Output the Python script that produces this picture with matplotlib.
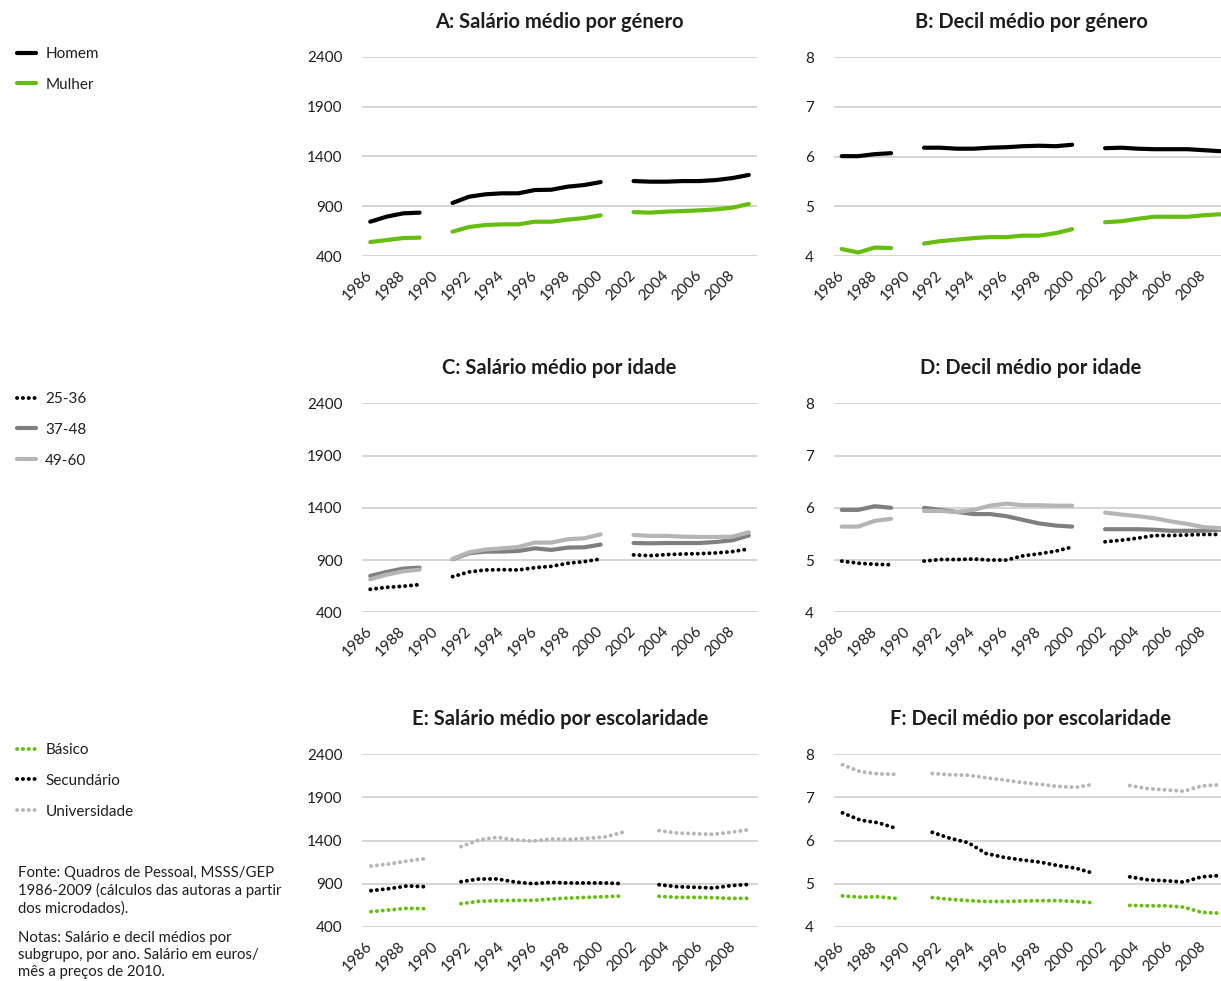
import numpy as np
import matplotlib.pyplot as plt

plt.rcParams['font.family'] = ['Lato', 'DejaVu Sans']

nan = np.nan

# eixo anual dos painéis A-D (1986-2009, sem 1990 e 2001)
years = list(range(1986, 2010))
tick_years = list(range(1986, 2009, 2))

# A: salário médio por género
sal_homem = [744, 795, 828, 835, nan, 932, 995, 1019, 1029, 1029, 1062, 1065, 1096, 1112, 1142,
             nan, 1152, 1146, 1146, 1152, 1152, 1162, 1182, 1213]
sal_mulher = [540, 560, 580, 584, nan, 644, 691, 711, 718, 718, 744, 744, 765, 781, 808,
              nan, 841, 835, 845, 851, 858, 868, 885, 922]

# B: decil médio por género
dec_homem = [6.01, 6.01, 6.05, 6.07, nan, 6.18, 6.18, 6.16, 6.16, 6.18, 6.19, 6.21, 6.22, 6.21, 6.24,
             nan, 6.17, 6.18, 6.16, 6.15, 6.15, 6.15, 6.13, 6.11]
dec_mulher = [4.14, 4.07, 4.17, 4.16, nan, 4.25, 4.30, 4.33, 4.36, 4.38, 4.38, 4.41, 4.41, 4.46, 4.54,
              nan, 4.68, 4.70, 4.75, 4.79, 4.79, 4.79, 4.82, 4.84]

# C: salário médio por idade
sal_25_36 = [620, 639, 649, 665, nan, 741, 786, 805, 808, 805, 827, 840, 869, 885, 910,
             nan, 949, 942, 952, 958, 961, 968, 981, 1006]
sal_37_48 = [748, 786, 818, 827, nan, 907, 965, 981, 981, 987, 1012, 997, 1019, 1022, 1048,
             nan, 1063, 1060, 1063, 1063, 1063, 1073, 1089, 1134]
sal_49_60 = [716, 760, 792, 808, nan, 910, 974, 1000, 1012, 1025, 1067, 1067, 1099, 1108, 1146,
             nan, 1140, 1131, 1131, 1124, 1121, 1121, 1124, 1166]

# D: decil médio por idade
dec_25_36 = [4.98, 4.94, 4.92, 4.91, nan, 4.98, 5.01, 5.01, 5.02, 5.00, 5.00, 5.08, 5.12, 5.17, 5.25,
             nan, 5.35, 5.38, 5.42, 5.47, 5.47, 5.48, 5.49, 5.49]
dec_37_48 = [5.96, 5.96, 6.03, 6.00, nan, 6.00, 5.96, 5.92, 5.88, 5.88, 5.84, 5.77, 5.70, 5.66, 5.64,
             nan, 5.59, 5.59, 5.59, 5.58, 5.56, 5.56, 5.56, 5.58]
dec_49_60 = [5.64, 5.64, 5.75, 5.79, nan, 5.94, 5.94, 5.92, 5.96, 6.04, 6.08, 6.05, 6.05, 6.04, 6.04,
             nan, 5.91, 5.87, 5.84, 5.80, 5.74, 5.69, 5.63, 5.61]

# E/F: escolaridade (22 pontos por série)
n_esc = 22
sal_basico = [577, 597, 616, 612, nan, 670, 697, 704, 708, 708, 724, 735, 743, 751, 758,
              nan, 755, 743, 743, 739, 731, 731]
sal_secund = [820, 843, 874, 866, nan, 924, 955, 955, 920, 901, 916, 909, 909, 909, 901,
              nan, 889, 866, 859, 851, 878, 893]
sal_univ = [1105, 1128, 1163, 1190, nan, 1329, 1406, 1437, 1406, 1394, 1417, 1413, 1425, 1441, 1495,
            nan, 1514, 1487, 1479, 1471, 1495, 1525]

dec_basico = [4.72, 4.69, 4.70, 4.66, nan, 4.68, 4.64, 4.61, 4.59, 4.59, 4.60, 4.61, 4.61, 4.59, 4.56,
              nan, 4.50, 4.49, 4.49, 4.46, 4.34, 4.32]
dec_secund = [6.64, 6.47, 6.41, 6.28, nan, 6.19, 6.05, 5.95, 5.70, 5.61, 5.55, 5.50, 5.42, 5.36, 5.24,
              nan, 5.16, 5.09, 5.07, 5.04, 5.16, 5.19]
dec_univ = [7.75, 7.59, 7.54, 7.53, nan, 7.55, 7.52, 7.51, 7.45, 7.40, 7.34, 7.30, 7.25, 7.23, 7.30,
            nan, 7.27, 7.20, 7.17, 7.14, 7.26, 7.29]

green = '#66bf0f'
dark = '#7f7f7f'
light = '#b5b5b5'
txt = '#1e1e1e'

W, H = 1221, 981
fig = plt.figure(figsize=(W / 100, H / 100), dpi=100)


def box(x0, ytop, x1, ybot):
    return [x0 / W, 1 - ybot / H, (x1 - x0) / W, (ybot - ytop) / H]


def setup(ax, title, yticks, n):
    ax.set_xlim(-0.5, n - 0.5)
    ax.set_ylim(yticks[0], yticks[-1])
    ax.set_yticks(yticks)
    ax.set_yticklabels([str(t) for t in yticks])
    for s in ax.spines.values():
        s.set_visible(False)
    ax.grid(axis='y', color='#c9c9c9', linewidth=1.1)
    ax.set_axisbelow(True)
    ax.tick_params(length=0, labelsize=11, colors=txt)
    ax.tick_params(axis='y', pad=14)
    ax.tick_params(axis='x', pad=12)
    # anos de 2 em 2, na mesma escala dos painéis anuais
    pos = [(y - 1985.5) * n / 24 - 0.5 for y in tick_years]
    ax.set_xticks(pos)
    ax.set_xticklabels([str(y) for y in tick_years], rotation=45, ha='right',
                       va='center', rotation_mode='anchor')
    ax.set_title(title, fontsize=14.5, fontweight='bold', color=txt, pad=21)


sal_ticks = [400, 900, 1400, 1900, 2400]
dec_ticks = [4, 5, 6, 7, 8]

x_ano = np.arange(len(years))
x_esc = np.arange(n_esc)

solid = dict(linewidth=3.0, solid_capstyle='round', solid_joinstyle='round')
dots = dict(linewidth=2.8, linestyle=(0, (0.05, 1.45)), dash_capstyle='round')

axA = fig.add_axes(box(362, 56.7, 757, 256))
axB = fig.add_axes(box(833.5, 57.3, 1228.5, 256))
axC = fig.add_axes(box(362, 403.3, 757, 612.3))
axD = fig.add_axes(box(833.5, 403.3, 1228.5, 612.3))
axE = fig.add_axes(box(362, 754, 758, 927))
axF = fig.add_axes(box(833.5, 754, 1228.5, 927))

setup(axA, 'A: Salário médio por género', sal_ticks, 24)
setup(axB, 'B: Decil médio por género', dec_ticks, 24)
setup(axC, 'C: Salário médio por idade', sal_ticks, 24)
setup(axD, 'D: Decil médio por idade', dec_ticks, 24)
setup(axE, 'E: Salário médio por escolaridade', sal_ticks, n_esc)
setup(axF, 'F: Decil médio por escolaridade', dec_ticks, n_esc)

axA.plot(x_ano, sal_homem, color='black', label='Homem', **solid)
axA.plot(x_ano, sal_mulher, color=green, label='Mulher', **solid)
axB.plot(x_ano, dec_homem, color='black', **solid)
axB.plot(x_ano, dec_mulher, color=green, **solid)

axC.plot(x_ano, sal_25_36, color='black', label='25-36', **dots)
axC.plot(x_ano, sal_37_48, color=dark, label='37-48', **solid)
axC.plot(x_ano, sal_49_60, color=light, label='49-60', **solid)
axD.plot(x_ano, dec_25_36, color='black', **dots)
axD.plot(x_ano, dec_37_48, color=dark, **solid)
axD.plot(x_ano, dec_49_60, color=light, **solid)

axE.plot(x_esc, sal_basico, color=green, label='Básico', **dots)
axE.plot(x_esc, sal_secund, color='black', label='Secundário', **dots)
axE.plot(x_esc, sal_univ, color=light, label='Universidade', **dots)
axF.plot(x_esc, dec_basico, color=green, **dots)
axF.plot(x_esc, dec_secund, color='black', **dots)
axF.plot(x_esc, dec_univ, color=light, **dots)

for ax, ytop in [(axA, 47), (axC, 392), (axE, 743)]:
    h, l = ax.get_legend_handles_labels()
    fig.legend(h, l, loc='upper left', bbox_to_anchor=(17 / W, 1 - ytop / H),
               frameon=False, fontsize=11, handlelength=1.25, handletextpad=0.6,
               labelspacing=1.1, borderpad=0, borderaxespad=0, labelcolor=txt)

fig.text(18 / W, 1 - 866 / H,
         'Fonte: Quadros de Pessoal, MSSS/GEP\n1986-2009 (cálculos das autoras a partir\ndos microdados).',
         fontsize=10.7, color=txt, va='top', linespacing=1.28)
fig.text(18 / W, 1 - 931 / H,
         'Notas: Salário e decil médios por\nsubgrupo, por ano. Salário em euros/\nmês a preços de 2010.',
         fontsize=10.7, color=txt, va='top', linespacing=1.28)

fig.savefig('out.png', dpi=100)
